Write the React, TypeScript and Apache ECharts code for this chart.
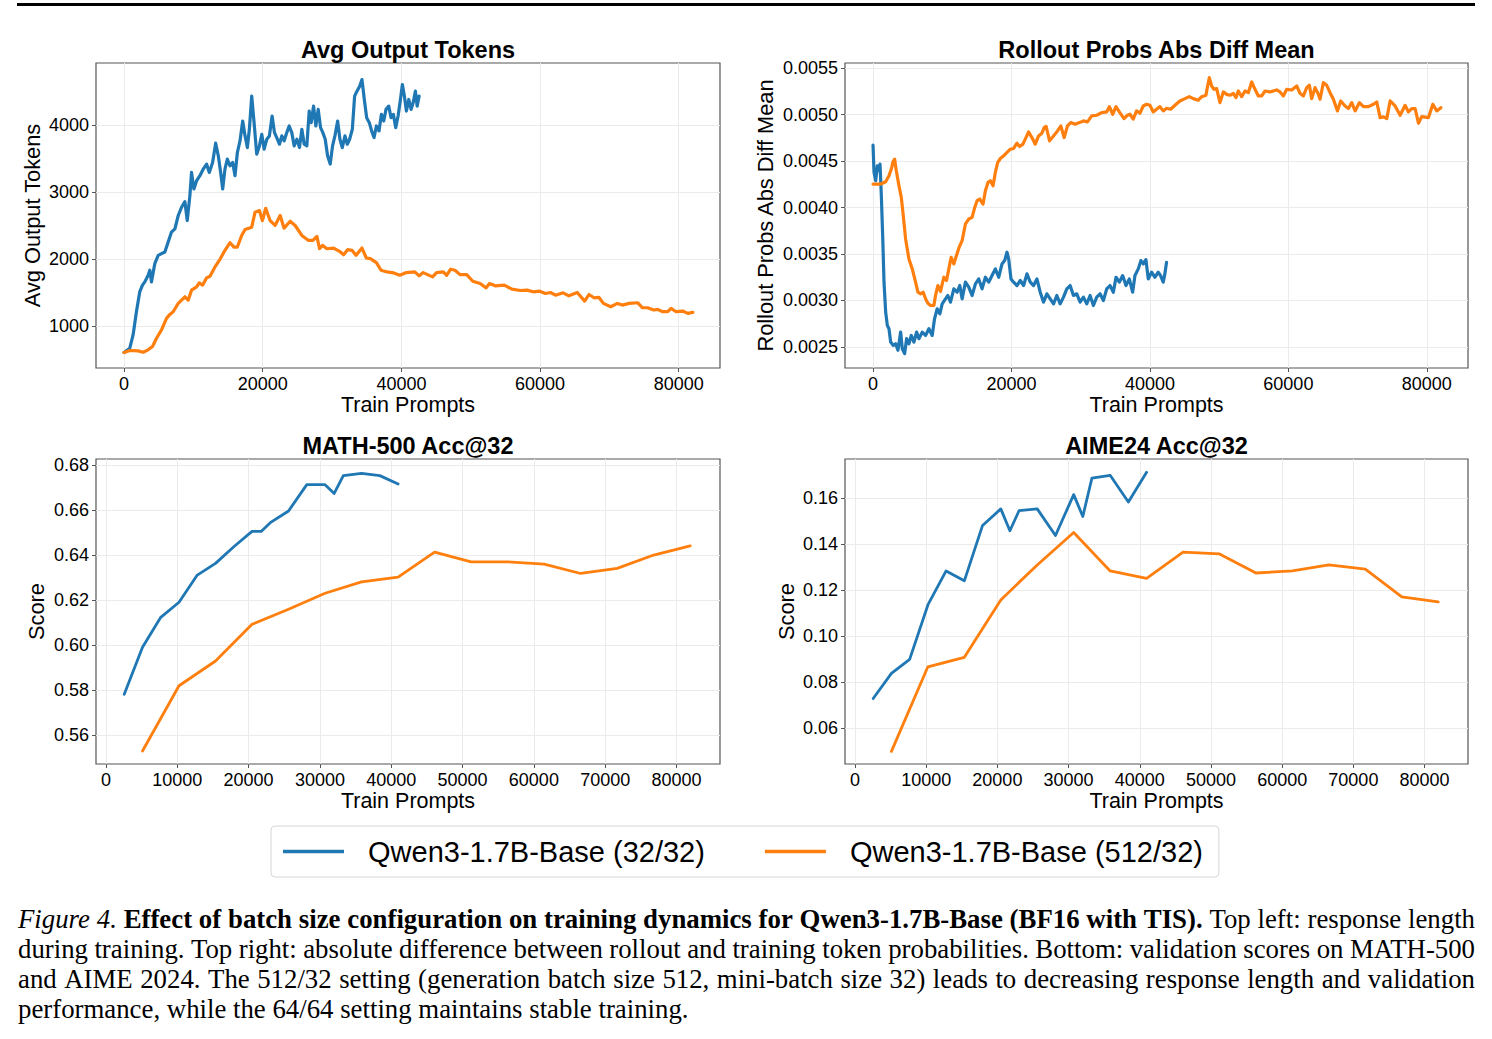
import React, { useEffect, useRef } from "react";
import * as echarts from "echarts";

const BLUE = "#1f77b4";
const ORANGE = "#ff7f0e";
const FONT = '"Liberation Sans", Arial, Helvetica, sans-serif';
const SERIF = '"Liberation Serif", "Times New Roman", serif';

const NAME_32 = "Qwen3-1.7B-Base (32/32)";
const NAME_512 = "Qwen3-1.7B-Base (512/32)";

const X_TICKS_TOP = [0, 20000, 40000, 60000, 80000];
const X_TICKS_BOTTOM = [0, 10000, 20000, 30000, 40000, 50000, 60000, 70000, 80000];
const Y_TICKS_TOKENS = [1000, 2000, 3000, 4000];
const Y_TICKS_DIFF = [0.0025, 0.003, 0.0035, 0.004, 0.0045, 0.005, 0.0055];
const Y_TICKS_MATH = [0.56, 0.58, 0.6, 0.62, 0.64, 0.66, 0.68];
const Y_TICKS_AIME = [0.06, 0.08, 0.1, 0.12, 0.14, 0.16];

const TITLES = ["Avg Output Tokens", "Rollout Probs Abs Diff Mean", "MATH-500 Acc@32", "AIME24 Acc@32"];
const Y_NAMES = ["Avg Output Tokens", "Rollout Probs Abs Diff Mean", "Score", "Score"];

const tokens32: [number, number][] = [
  [0, 604], [820, 668], [1300, 866], [1780, 1213], [2260, 1510], [2650, 1609], [2990, 1658], [3470, 1757], [3710, 1832], [3950, 1658],
  [4430, 1931], [4920, 2054], [5400, 2079], [5880, 2104], [6360, 2252], [6840, 2401], [7330, 2450], [7810, 2649], [8290, 2772], [8770, 2856],
  [9110, 2574], [9490, 2946], [9730, 3292], [10070, 3045], [10460, 3168], [10940, 3243], [11420, 3342], [11900, 3416], [12290, 3292], [12770, 3441],
  [13210, 3728], [13590, 3540], [13930, 3292], [14220, 3045], [14550, 3342], [14890, 3490], [15280, 3391], [15660, 3441], [16000, 3243], [16340, 3589],
  [16720, 3762], [17110, 4059], [17450, 3837], [17780, 3663], [18070, 3936], [18410, 4431], [18750, 4035], [19130, 3564], [19520, 3688], [19860, 3861],
  [20200, 3639], [20580, 3787], [20960, 3837], [21350, 4134], [21690, 3886], [22020, 3812], [22410, 3713], [22750, 3837], [23080, 3762], [23470, 3886],
  [23810, 3985], [24190, 3886], [24530, 3688], [24920, 3787], [25300, 3663], [25640, 3936], [25980, 3713], [26360, 3688], [26700, 4208], [26990, 4035],
  [27330, 4282], [27660, 3985], [28000, 4233], [28340, 3960], [28670, 3886], [29010, 3787], [29350, 3540], [29730, 3416], [30070, 3688], [30410, 3837],
  [30800, 4059], [31130, 3787], [31470, 3663], [31860, 3837], [32190, 3713], [32530, 3787], [32920, 3936], [33250, 4431], [33590, 4505], [33980, 4579],
  [34310, 4678], [34650, 4381], [34990, 4109], [35370, 4035], [35710, 3911], [36050, 3812], [36390, 3985], [36770, 3911], [37110, 4158], [37450, 4059],
  [37780, 4233], [38170, 4282], [38510, 4109], [38840, 4158], [39180, 3960], [39520, 4134], [39860, 4381], [40140, 4604], [40430, 4431], [40720, 4208],
  [41060, 4381], [41400, 4233], [41690, 4332], [42020, 4505], [42270, 4282], [42550, 4431],
];

const tokens512: [number, number][] = [
  [0, 604], [820, 634], [2020, 629], [2750, 609], [3470, 644], [4100, 693], [4680, 817], [5400, 941], [6120, 1114], [6600, 1173],
  [7080, 1213], [7810, 1337], [8770, 1436], [9250, 1386], [9730, 1535], [10460, 1584], [10840, 1644], [11320, 1609], [11900, 1718], [12390, 1743],
  [13110, 1881], [13830, 1995], [14550, 2129], [15280, 2243], [15850, 2178], [16340, 2178], [16960, 2351], [17450, 2441], [18410, 2475], [18890, 2698],
  [19520, 2723], [19950, 2574], [20430, 2757], [21060, 2574], [21780, 2500], [22510, 2649], [23080, 2460], [23950, 2564], [24670, 2500], [25640, 2351],
  [26600, 2277], [27230, 2277], [27810, 2337], [28190, 2153], [28620, 2203], [29250, 2153], [30220, 2163], [31080, 2114], [31660, 2064], [32240, 2139],
  [32870, 2129], [33450, 2054], [34310, 2163], [34940, 2015], [35520, 2005], [36390, 1946], [37060, 1832], [37930, 1807], [38890, 1792], [39760, 1757],
  [40720, 1797], [41930, 1807], [42560, 1748], [43140, 1797], [44490, 1733], [45070, 1797], [46040, 1807], [46520, 1757], [47100, 1847], [47730, 1832],
  [48450, 1767], [49420, 1767], [50290, 1668], [51350, 1634], [52220, 1569], [52700, 1634], [53530, 1599], [54830, 1609], [55940, 1550], [57150, 1530],
  [58120, 1535], [58990, 1510], [59950, 1520], [60770, 1485], [61500, 1500], [62220, 1460], [63330, 1495], [64150, 1450], [65360, 1500], [66430, 1371],
  [67050, 1470], [67780, 1421], [68500, 1426], [69130, 1337], [70190, 1287], [71160, 1337], [71880, 1312], [72850, 1337], [74060, 1347], [74780, 1272],
  [75510, 1272], [76380, 1238], [76960, 1248], [77680, 1213], [78410, 1213], [78890, 1262], [79610, 1213], [80580, 1223], [81300, 1188], [82030, 1203],
];

const diff32: [number, number][] = [
  [0, 0.00467], [144, 0.004377], [384, 0.004288], [624, 0.004449], [864, 0.004395], [1008, 0.004466], [1200, 0.004127], [1393, 0.003697], [1585, 0.003197], [1825, 0.002875],
  [2065, 0.002732], [2305, 0.002696], [2545, 0.002553], [2929, 0.002517], [3265, 0.002535], [3601, 0.002464], [3986, 0.00266], [4226, 0.002481], [4562, 0.002428], [4850, 0.002589],
  [5186, 0.002535], [5522, 0.002624], [5906, 0.002553], [6290, 0.00266], [6627, 0.002589], [7107, 0.00266], [7587, 0.002624], [8067, 0.002696], [8547, 0.002624], [8883, 0.002803],
  [9268, 0.002911], [9652, 0.002857], [9988, 0.002964], [10468, 0.003018], [10804, 0.003054], [11189, 0.002982], [11669, 0.003125], [12149, 0.003089], [12533, 0.003161], [12869, 0.003018],
  [13349, 0.003197], [13829, 0.003143], [14309, 0.003054], [14790, 0.003179], [15270, 0.003232], [15750, 0.003125], [16230, 0.00325], [16710, 0.003197], [17190, 0.003268], [17671, 0.00334],
  [18151, 0.00325], [18631, 0.003393], [19015, 0.003429], [19352, 0.003519], [19592, 0.003447], [19928, 0.003232], [20312, 0.003197], [20792, 0.003161], [21272, 0.003215], [21752, 0.003161],
  [22233, 0.003286], [22713, 0.003197], [23193, 0.003161], [23673, 0.003232], [24153, 0.003089], [24633, 0.002982], [25114, 0.003072], [25594, 0.003018], [26074, 0.002964], [26554, 0.003054],
  [27034, 0.002964], [27514, 0.003036], [27994, 0.003125], [28475, 0.003161], [28955, 0.003054], [29435, 0.003072], [29915, 0.002982], [30395, 0.003036], [30876, 0.002964], [31356, 0.003054],
  [31836, 0.002946], [32316, 0.003036], [32796, 0.003072], [33277, 0.003], [33757, 0.003125], [34237, 0.003161], [34717, 0.003089], [35101, 0.00325], [35582, 0.003197], [36062, 0.003268],
  [36542, 0.003161], [37022, 0.003232], [37502, 0.003089], [37838, 0.003268], [38319, 0.00334], [38703, 0.003429], [39039, 0.003393], [39423, 0.00344], [39759, 0.003232], [40239, 0.003304],
  [40719, 0.00325], [41200, 0.003304], [41536, 0.003268], [41920, 0.003197], [42160, 0.003286], [42400, 0.003411],
];

const diff512: [number, number][] = [
  [0, 0.004252], [384, 0.004252], [1104, 0.004252], [1825, 0.004277], [2305, 0.004341], [2641, 0.004413], [2881, 0.004491], [3121, 0.00452], [3361, 0.004395], [3746, 0.004234],
  [4082, 0.004109], [4370, 0.003912], [4706, 0.003662], [5186, 0.003447], [5666, 0.00334], [6146, 0.003197], [6483, 0.003089], [6867, 0.003072], [7251, 0.003089], [7587, 0.003018],
  [7923, 0.002971], [8307, 0.002946], [8787, 0.002946], [9028, 0.003054], [9364, 0.003161], [9748, 0.003097], [10228, 0.00325], [10612, 0.003215], [10948, 0.00334], [11284, 0.003465],
  [11669, 0.003393], [12053, 0.003483], [12437, 0.003572], [12869, 0.003644], [13349, 0.003823], [13829, 0.003876], [14309, 0.003894], [14694, 0.004001], [15030, 0.004073], [15414, 0.004091],
  [15894, 0.004037], [16230, 0.00418], [16615, 0.00427], [16951, 0.004288], [17335, 0.004234], [17671, 0.004377], [18007, 0.004484], [18391, 0.004527], [18871, 0.004556], [19352, 0.004592],
  [19832, 0.004627], [20312, 0.004635], [20792, 0.004692], [21176, 0.004656], [21656, 0.004681], [21992, 0.004735], [22473, 0.004813], [22953, 0.004752], [23433, 0.004681], [23913, 0.00477],
  [24393, 0.004799], [24729, 0.00486], [25017, 0.004871], [25498, 0.004717], [26074, 0.00477], [26650, 0.004824], [27130, 0.004878], [27610, 0.004752], [28091, 0.004878], [28571, 0.004913],
  [29195, 0.004896], [29819, 0.004913], [30395, 0.004931], [30972, 0.004921], [31596, 0.004985], [32316, 0.004992], [33037, 0.005021], [33757, 0.005028], [34141, 0.005085], [34621, 0.005003],
  [35101, 0.005085], [35582, 0.005028], [36254, 0.004956], [36734, 0.004992], [37108, 0.005003], [37590, 0.00495], [38072, 0.005039], [38554, 0.005014], [39036, 0.005092], [39518, 0.00511],
  [40000, 0.005099], [40482, 0.005028], [40964, 0.005057], [41446, 0.005085], [41928, 0.005039], [42410, 0.005067], [42988, 0.005057], [43614, 0.005099], [44337, 0.005146], [45060, 0.005171],
  [45687, 0.005192], [46265, 0.005171], [46988, 0.005153], [47470, 0.005192], [48096, 0.005207], [48289, 0.005289], [48578, 0.005396], [48916, 0.005307], [49253, 0.005271], [49639, 0.005278],
  [50120, 0.005128], [50602, 0.005243], [51084, 0.005217], [51566, 0.005207], [52048, 0.005228], [52434, 0.005182], [52771, 0.005253], [53253, 0.005192], [53735, 0.005253], [54217, 0.005235],
  [54699, 0.00535], [55181, 0.005271], [55663, 0.0052], [56145, 0.0052], [56627, 0.005253], [57349, 0.005243], [58313, 0.005264], [58795, 0.005243], [59277, 0.0052], [59759, 0.005271],
  [60482, 0.005264], [61205, 0.005307], [61687, 0.005228], [62169, 0.0052], [62651, 0.005289], [63036, 0.005314], [63373, 0.005171], [63855, 0.005289], [64337, 0.005217], [64578, 0.005164],
  [65060, 0.005343], [65542, 0.005314], [66024, 0.005235], [66506, 0.005164], [67084, 0.005039], [67566, 0.005146], [68193, 0.005092], [68675, 0.005064], [69157, 0.005128], [69639, 0.005039],
  [70265, 0.005128], [70843, 0.005085], [71566, 0.005085], [72289, 0.00511], [72771, 0.005135], [73253, 0.004967], [73735, 0.004974], [74217, 0.004956], [74699, 0.005146], [75422, 0.005092],
  [76145, 0.004992], [76867, 0.005099], [77349, 0.005028], [77831, 0.005064], [78313, 0.005064], [78795, 0.004906], [79277, 0.004978], [80241, 0.004967], [80867, 0.00511], [81446, 0.005039],
  [82024, 0.005074],
];

const math32: [number, number][] = [
  [2560, 0.5781], [5120, 0.599], [7680, 0.6123], [10240, 0.619], [12800, 0.6311], [15360, 0.6363], [17920, 0.6437], [20480, 0.6505], [21760, 0.6505],
  [23040, 0.6544], [25600, 0.6596], [28160, 0.6713], [30720, 0.6713], [32000, 0.6674], [33280, 0.6753], [35840, 0.6763], [38400, 0.6753], [40960, 0.6716],
];
const math512: [number, number][] = [
  [5120, 0.5529], [10240, 0.5819], [15360, 0.5929], [20480, 0.6092], [25600, 0.6159], [30720, 0.623], [35840, 0.6281], [40960, 0.6302],
  [46080, 0.6413], [51200, 0.637], [56320, 0.637], [61440, 0.636], [66560, 0.6318], [71680, 0.6341], [76800, 0.64], [81920, 0.6441],
];
const aime32: [number, number][] = [
  [2560, 0.0728], [5120, 0.0837], [7680, 0.0898], [10240, 0.1135], [12800, 0.1283], [15360, 0.124], [17920, 0.1481], [20480, 0.1553], [21760, 0.1458],
  [23040, 0.1545], [25600, 0.1553], [28160, 0.1437], [30720, 0.1615], [32000, 0.152], [33280, 0.1687], [35840, 0.1699], [38400, 0.1583], [40960, 0.1712],
];
const aime512: [number, number][] = [
  [5120, 0.0498], [10240, 0.0866], [15360, 0.0907], [20480, 0.1157], [25600, 0.1309], [30720, 0.145], [35840, 0.1283], [40960, 0.1251],
  [46080, 0.1365], [51200, 0.1357], [56320, 0.1274], [61440, 0.1283], [66560, 0.1309], [71680, 0.1291], [76800, 0.117], [81920, 0.1148],
];

type Seg = { style: "italic" | "bold" | "normal"; text: string };
const CAPTION: Seg[][] = [
  [
    { style: "italic", text: "Figure 4." },
    { style: "bold", text: "Effect of batch size configuration on training dynamics for Qwen3-1.7B-Base (BF16 with TIS)." },
    { style: "normal", text: "Top left: response length" },
  ],
  [{ style: "normal", text: "during training. Top right: absolute difference between rollout and training token probabilities. Bottom: validation scores on MATH-500" }],
  [{ style: "normal", text: "and AIME 2024. The 512/32 setting (generation batch size 512, mini-batch size 32) leads to decreasing response length and validation" }],
  [{ style: "normal", text: "performance, while the 64/64 setting maintains stable training." }],
];
const CAPTION_JUSTIFY = [true, true, true, false];

const GRIDS = [
  { left: 96, top: 63, width: 624, height: 305 },
  { left: 845, top: 63, width: 623, height: 305 },
  { left: 96, top: 459, width: 624, height: 305 },
  { left: 845, top: 459, width: 623, height: 305 },
];

function captionElements(): any[] {
  const CAP_LEFT = 18, CAP_RIGHT = 1475, CAP_Y0 = 919, CAP_DY = 30, CAP_SIZE = 26.8;
  const canvas = document.createElement("canvas");
  const ctx = canvas.getContext("2d")!;
  const fontOf = (s: string) =>
    `${s === "italic" ? "italic " : ""}${s === "bold" ? "bold " : ""}${CAP_SIZE}px ${SERIF}`;
  const els: any[] = [];
  CAPTION.forEach((segs, li) => {
    const words: { w: string; style: string }[] = [];
    segs.forEach((seg) => seg.text.split(" ").forEach((w) => words.push({ w, style: seg.style })));
    const widths = words.map((o) => {
      ctx.font = fontOf(o.style);
      return ctx.measureText(o.w).width;
    });
    ctx.font = fontOf("normal");
    const spaceW = ctx.measureText(" ").width;
    const total = widths.reduce((a, b) => a + b, 0);
    const gap = CAPTION_JUSTIFY[li] ? (CAP_RIGHT - CAP_LEFT - total) / (words.length - 1) : spaceW;
    let x = CAP_LEFT;
    const y = CAP_Y0 + li * CAP_DY;
    words.forEach((o, i) => {
      els.push({
        type: "text",
        x,
        y,
        style: {
          text: o.w,
          fontSize: CAP_SIZE,
          fontFamily: SERIF,
          fontWeight: o.style === "bold" ? "bold" : "normal",
          fontStyle: o.style === "italic" ? "italic" : "normal",
          fill: "#000",
          align: "left",
          verticalAlign: "middle",
        },
      });
      x += widths[i] + gap;
    });
  });
  return els;
}

function makeX(gridIndex: number, min: number, max: number, ticks: number[]) {
  return {
    type: "value",
    gridIndex,
    min,
    max,
    name: "Train Prompts",
    nameLocation: "middle",
    nameGap: 24,
    nameTextStyle: { fontSize: 21.5, fontFamily: FONT, color: "#000" },
    axisLine: { show: false, onZero: false },
    axisTick: { show: true, length: 4, customValues: ticks, lineStyle: { color: "#555", width: 1 } },
    axisLabel: { customValues: ticks, fontSize: 18, fontFamily: FONT, color: "#000", margin: 7, formatter: (v: number) => String(v) },
    splitLine: { show: true, lineStyle: { color: "#ebebeb", width: 1 } },
  };
}

function makeY(gridIndex: number, min: number, max: number, ticks: number[], name: string, gap: number, digits: number) {
  return {
    type: "value",
    gridIndex,
    min,
    max,
    name,
    nameLocation: "middle",
    nameGap: gap,
    nameTextStyle: { fontSize: 21.8, fontFamily: FONT, color: "#000" },
    axisLine: { show: false, onZero: false },
    axisTick: { show: true, length: 4, customValues: ticks, lineStyle: { color: "#555", width: 1 } },
    axisLabel: {
      customValues: ticks,
      fontSize: 18,
      fontFamily: FONT,
      color: "#000",
      margin: 7,
      formatter: (v: number) => (digits === 0 ? String(Math.round(v)) : v.toFixed(digits)),
    },
    splitLine: { show: true, lineStyle: { color: "#ebebeb", width: 1 } },
  };
}

function line(name: string, color: string, data: [number, number][], idx: number, width: number) {
  return {
    type: "line",
    name,
    xAxisIndex: idx,
    yAxisIndex: idx,
    data,
    showSymbol: false,
    symbol: "none",
    lineStyle: { color, width, join: "round", cap: "round" },
    itemStyle: { color },
    emphasis: { disabled: true },
  };
}

export default function App() {
  const ref = useRef<HTMLDivElement>(null);
  useEffect(() => {
    if (!ref.current) return;
    const chart = echarts.init(ref.current, null, { renderer: "svg" });
    const titleEls = TITLES.map((t, i) => ({
      type: "text",
      x: GRIDS[i].left + GRIDS[i].width / 2,
      y: GRIDS[i].top - 13,
      style: { text: t, fontSize: 23.5, fontWeight: "bold", fontFamily: FONT, fill: "#000", align: "center", verticalAlign: "middle" },
    }));
    const option: any = {
      animation: false,
      backgroundColor: "#fff",
      textStyle: { fontFamily: FONT },
      grid: GRIDS.map((g) => ({ ...g, show: true, borderColor: "#555", borderWidth: 1.2, backgroundColor: "transparent", containLabel: false })),
      xAxis: [
        makeX(0, -4050, 85950, X_TICKS_TOP),
        makeX(1, -4050, 85950, X_TICKS_TOP),
        makeX(2, -1400, 86100, X_TICKS_BOTTOM),
        makeX(3, -1400, 86100, X_TICKS_BOTTOM),
      ],
      yAxis: [
        makeY(0, 373, 4925, Y_TICKS_TOKENS, Y_NAMES[0], 53, 0),
        makeY(1, 0.002274, 0.005554, Y_TICKS_DIFF, Y_NAMES[1], 69, 4),
        makeY(2, 0.5471, 0.6827, Y_TICKS_MATH, Y_NAMES[2], 49, 2),
        makeY(3, 0.0443, 0.177, Y_TICKS_AIME, Y_NAMES[3], 48, 2),
      ],
      legend: {
        left: 271,
        top: 826,
        data: [NAME_32, NAME_512],
        icon: "rect",
        itemWidth: 61,
        itemHeight: 3.5,
        itemGap: 60,
        padding: [10, 16, 10, 12],
        borderColor: "#d6d6d6",
        borderWidth: 1,
        borderRadius: 4,
        backgroundColor: "#fff",
        selectedMode: false,
        textStyle: { fontSize: 29, fontFamily: FONT, color: "#000", padding: [0, 0, 0, 19], lineHeight: 31 },
      },
      series: [
        line(NAME_32, BLUE, tokens32, 0, 3.2),
        line(NAME_512, ORANGE, tokens512, 0, 3.2),
        line(NAME_32, BLUE, diff32, 1, 3.2),
        line(NAME_512, ORANGE, diff512, 1, 3.2),
        line(NAME_32, BLUE, math32, 2, 2.8),
        line(NAME_512, ORANGE, math512, 2, 2.8),
        line(NAME_32, BLUE, aime32, 3, 2.8),
        line(NAME_512, ORANGE, aime512, 3, 2.8),
      ],
      graphic: {
        elements: [
          { type: "line", shape: { x1: 17, y1: 4.5, x2: 1475, y2: 4.5 }, style: { stroke: "#000", lineWidth: 3 } },
          ...titleEls,
          ...captionElements(),
        ],
      },
    };
    chart.setOption(option);
    return () => chart.dispose();
  }, []);
  return <div ref={ref} style={{ position: "absolute", left: 0, top: 0, width: 1492, height: 1039 }} />;
}
